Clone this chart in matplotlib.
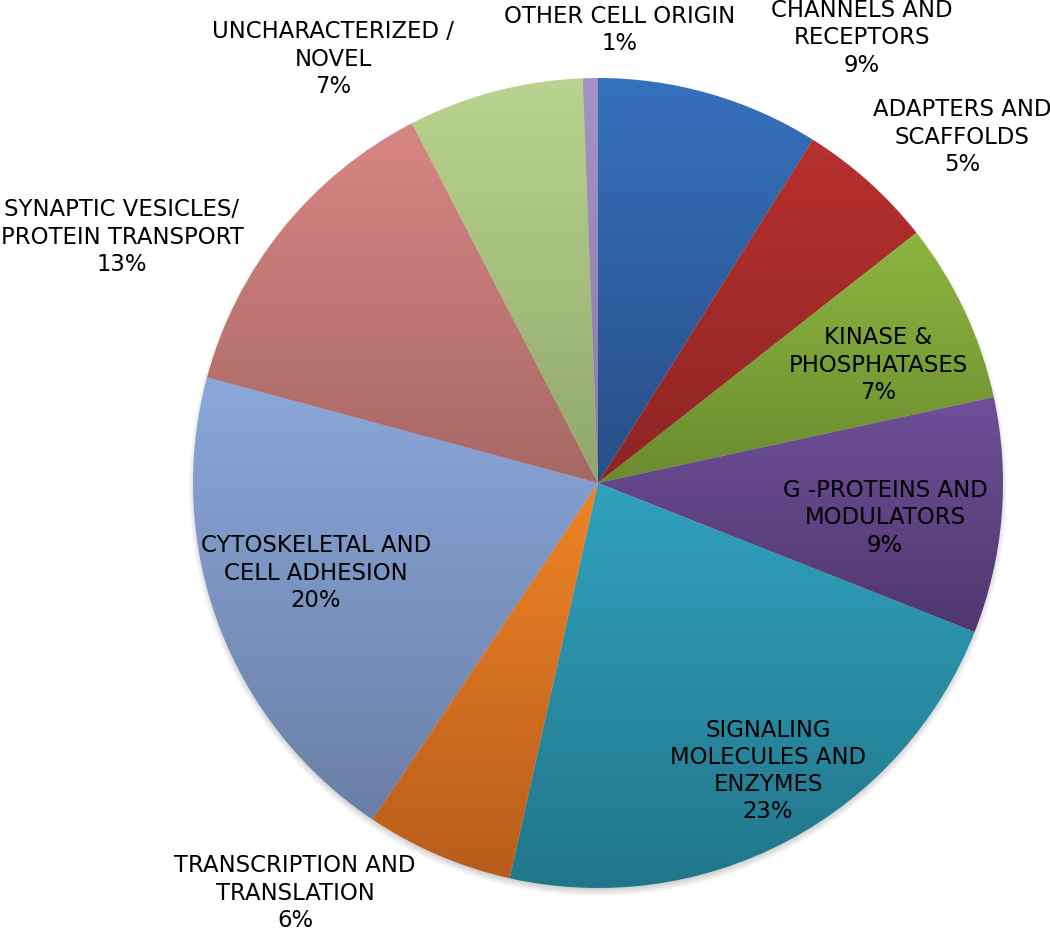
import matplotlib
matplotlib.use("Agg")
from matplotlib import pyplot as plt
from matplotlib.patches import Circle
from matplotlib.colors import to_rgb
import numpy as np

# slice values (percent), clockwise from 12 o'clock
categories = ["CHANNELS AND\nRECEPTORS", "ADAPTERS AND\nSCAFFOLDS", "KINASE &\nPHOSPHATASES",
              "G -PROTEINS AND\nMODULATORS", "SIGNALING\nMOLECULES AND\nENZYMES",
              "TRANSCRIPTION AND\nTRANSLATION", "CYTOSKELETAL AND\nCELL ADHESION",
              "SYNAPTIC VESICLES/\nPROTEIN TRANSPORT", "UNCHARACTERIZED /\nNOVEL",
              "OTHER CELL ORIGIN"]
values = [8.9, 5.5, 7.2, 9.4, 22.5, 5.9, 19.8, 13.2, 7.0, 0.6]
pct_labels = ["9%", "5%", "7%", "9%", "23%", "6%", "20%", "13%", "7%", "1%"]

# gradient colours per slice: top -> bottom
top_colors = ["#3571BC", "#B7312F", "#8DB640", "#6F4F98", "#31A1BD",
              "#F08426", "#8AA8DA", "#D98683", "#B9D48E", "#A493C6"]
bottom_colors = ["#284E86", "#8C2523", "#6A8B2F", "#50376F", "#21768A",
                 "#B75D1B", "#6A7FA6", "#A66865", "#91A76C", "#8A7BA6"]

# label centres in pixels (x, y from top)
label_pos = [(862, 38), (962, 137), (878, 365), (885, 518), (768, 771),
             (295, 893), (316, 573), (122, 237), (333, 59), (620, 30)]

W, H = 1050, 932
cx, cy, R = 598, H - 483, 405

fig = plt.figure(figsize=(W / 100, H / 100), dpi=100)
ax = fig.add_axes([0, 0, 1, 1])

# soft shadow below the pie
for k in range(8):
    ax.add_patch(Circle((cx, cy - 4), R + 4 - k, color="black", alpha=0.025, lw=0, zorder=0))

wedges, _ = ax.pie(values, center=(cx, cy), radius=R, startangle=90,
                   counterclock=False, frame=True)

for w, c0, c1 in zip(wedges, top_colors, bottom_colors):
    w.set_facecolor("none")
    w.set_edgecolor("none")
    bb = w.get_path().get_extents()
    t = np.linspace(0, 1, 256)[:, None]
    grad = (1 - t) * np.array(to_rgb(c0)) + t * np.array(to_rgb(c1))
    img = ax.imshow(grad[:, None, :], extent=[bb.x0, bb.x1, bb.y0, bb.y1],
                    origin="upper", aspect="auto", interpolation="bilinear", zorder=1)
    img.set_clip_path(w)

for name, pct, (lx, ly) in zip(categories, pct_labels, label_pos):
    ax.text(lx, H - ly, name + "\n" + pct, ha="center", va="center",
            fontsize=16.4, color="black", linespacing=1.24, zorder=3)

ax.set_xlim(0, W)
ax.set_ylim(0, H)
ax.set_aspect("auto")
ax.axis("off")

fig.savefig("out.png", dpi=100)
